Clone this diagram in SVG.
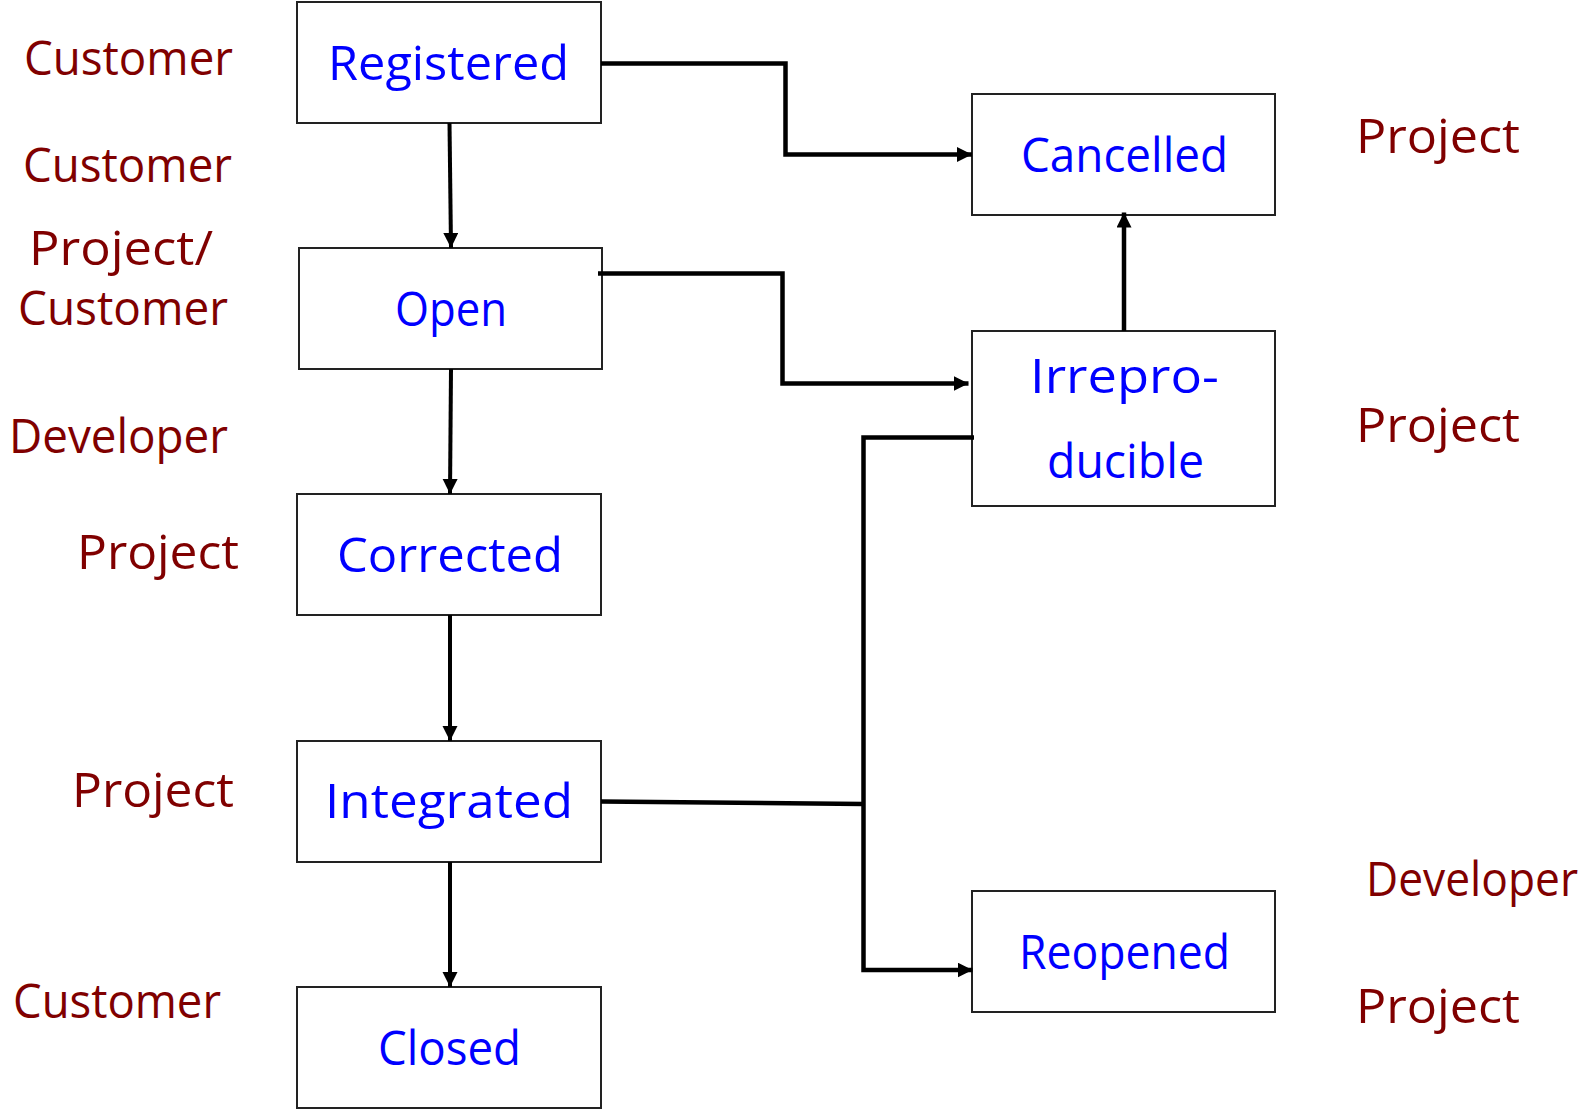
<svg xmlns="http://www.w3.org/2000/svg" width="1594" height="1109" viewBox="0 0 1594 1109">
  <style>
    .box { fill: #ffffff; stroke: #222222; stroke-width: 2; }
    .state { font-family: "Open Sans", "DejaVu Sans", sans-serif; font-size: 48px; fill: #0000ff; }
    .role { font-family: "Open Sans", "DejaVu Sans", sans-serif; font-size: 48px; fill: #800000; }
    .edge { fill: none; stroke: #000000; stroke-width: 4.5; stroke-linejoin: miter; stroke-linecap: butt; }
    .edge.thin { stroke-width: 4; }
  </style>
  <defs>
    <marker id="arrow" markerUnits="userSpaceOnUse" markerWidth="16" markerHeight="16" refX="15" refY="7.5" orient="auto">
      <path d="M0,0 L15,7.5 L0,15 Z" fill="#000000"/>
    </marker>
  </defs>

  <rect x="0" y="0" width="1594" height="1109" fill="#ffffff"/>

  <!-- state boxes -->
  <g id="node-registered">
    <rect class="box" x="297" y="2" width="304" height="121"/>
    <text class="state" x="328" y="80" textLength="241" lengthAdjust="spacingAndGlyphs">Registered</text>
  </g>
  <g id="node-open">
    <rect class="box" x="299" y="248" width="303" height="121"/>
    <text class="state" x="395" y="326" textLength="112" lengthAdjust="spacingAndGlyphs">Open</text>
  </g>
  <g id="node-corrected">
    <rect class="box" x="297" y="494" width="304" height="121"/>
    <text class="state" x="337" y="572" textLength="226" lengthAdjust="spacingAndGlyphs">Corrected</text>
  </g>
  <g id="node-integrated">
    <rect class="box" x="297" y="741" width="304" height="121"/>
    <text class="state" x="325" y="818" textLength="248" lengthAdjust="spacingAndGlyphs">Integrated</text>
  </g>
  <g id="node-closed">
    <rect class="box" x="297" y="987" width="304" height="121"/>
    <text class="state" x="378" y="1065" textLength="143" lengthAdjust="spacingAndGlyphs">Closed</text>
  </g>
  <g id="node-cancelled">
    <rect class="box" x="972" y="94" width="303" height="121"/>
    <text class="state" x="1021" y="172" textLength="207" lengthAdjust="spacingAndGlyphs">Cancelled</text>
  </g>
  <g id="node-irreproducible">
    <rect class="box" x="972" y="331" width="303" height="175"/>
    <text class="state" x="1030" y="393" textLength="189" lengthAdjust="spacingAndGlyphs">Irrepro-</text>
    <text class="state" x="1047" y="478" textLength="157" lengthAdjust="spacingAndGlyphs">ducible</text>
  </g>
  <g id="node-reopened">
    <rect class="box" x="972" y="891" width="303" height="121"/>
    <text class="state" x="1019" y="969" textLength="211" lengthAdjust="spacingAndGlyphs">Reopened</text>
  </g>

  <!-- transitions -->
  <g id="connectors">
    <path class="edge thin" d="M449.5,123 L451,248" marker-end="url(#arrow)"/>
    <path class="edge" d="M601,63.5 H785.5 V154.5 H972" marker-end="url(#arrow)"/>
    <path class="edge" d="M598,273.5 H782.5 V383.5 H968.5" marker-end="url(#arrow)"/>
    <path class="edge" d="M1124,331 V212.5" marker-end="url(#arrow)"/>
    <path class="edge thin" d="M451,369 L450,494" marker-end="url(#arrow)"/>
    <path class="edge thin" d="M450,615 V741" marker-end="url(#arrow)"/>
    <path class="edge thin" d="M450,862 V987" marker-end="url(#arrow)"/>
    <path class="edge" d="M601,801.5 L863.5,804"/>
    <path class="edge" d="M974,437.5 H863.5 V970 H972.5" marker-end="url(#arrow)"/>
  </g>

  <!-- responsible roles -->
  <g id="roles">
    <text class="role" x="24" y="75" textLength="209" lengthAdjust="spacingAndGlyphs">Customer</text>
    <text class="role" x="23" y="182" textLength="209" lengthAdjust="spacingAndGlyphs">Customer</text>
    <text class="role" x="29" y="265" textLength="184" lengthAdjust="spacingAndGlyphs">Project/</text>
    <text class="role" x="18" y="325" textLength="210" lengthAdjust="spacingAndGlyphs">Customer</text>
    <text class="role" x="9" y="453" textLength="219" lengthAdjust="spacingAndGlyphs">Developer</text>
    <text class="role" x="77" y="569" textLength="162" lengthAdjust="spacingAndGlyphs">Project</text>
    <text class="role" x="72" y="807" textLength="162" lengthAdjust="spacingAndGlyphs">Project</text>
    <text class="role" x="13" y="1018" textLength="208" lengthAdjust="spacingAndGlyphs">Customer</text>
    <text class="role" x="1356" y="153" textLength="164" lengthAdjust="spacingAndGlyphs">Project</text>
    <text class="role" x="1356" y="442" textLength="164" lengthAdjust="spacingAndGlyphs">Project</text>
    <text class="role" x="1366" y="896" textLength="212" lengthAdjust="spacingAndGlyphs">Developer</text>
    <text class="role" x="1356" y="1023" textLength="164" lengthAdjust="spacingAndGlyphs">Project</text>
  </g>
</svg>
